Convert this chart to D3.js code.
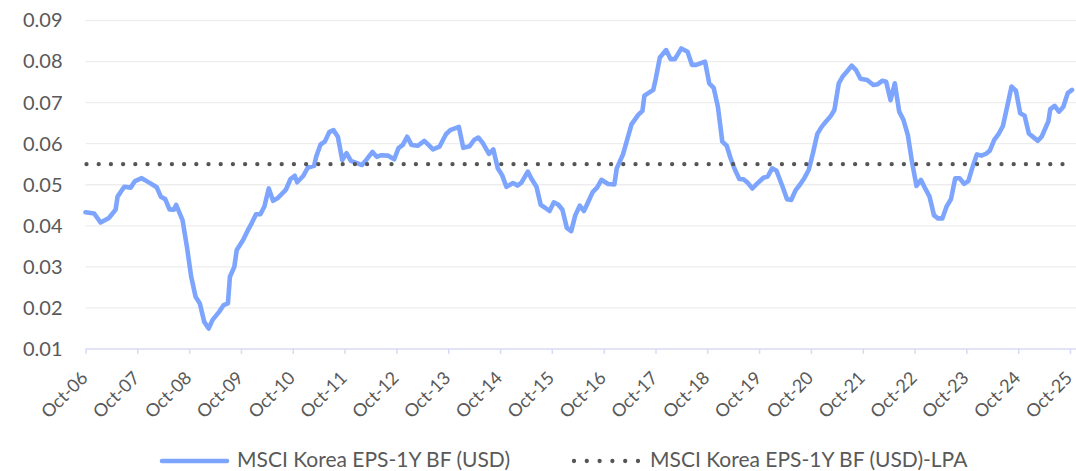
<!DOCTYPE html>
<html lang="en">
<head>
    <meta charset="UTF-8">
    <title>MSCI Korea EPS-1Y BF</title>
    <script src="https://d3js.org/d3.v7.min.js"></script>
    <style>
        body {
            margin: 0;
            background-color: white;
        }
        svg text {
            font-family: Lato, "Open Sans", sans-serif;
            fill: #595959;
        }
    </style>
</head>
<body>
    <div id="chart"></div>
    <script>
        // readings taken off the chart (roughly monthly)
        const dates = [
            "2006-10-01", "2006-12-01", "2007-01-15", "2007-03-15", "2007-05-01", "2007-05-15", "2007-07-01", "2007-08-15",
            "2007-09-15", "2007-11-01", "2007-12-15", "2008-02-01", "2008-02-15", "2008-03-15", "2008-04-15", "2008-05-15",
            "2008-06-15", "2008-07-01", "2008-08-15", "2008-09-15", "2008-10-15", "2008-11-15", "2008-12-15", "2009-01-15",
            "2009-02-15", "2009-03-15", "2009-05-01", "2009-06-01", "2009-07-01", "2009-07-15", "2009-08-15", "2009-09-01",
            "2009-10-15", "2009-11-15", "2009-12-15", "2010-01-15", "2010-02-15", "2010-03-15", "2010-04-15", "2010-05-15",
            "2010-06-15", "2010-08-01", "2010-08-15", "2010-09-15", "2010-10-15", "2010-11-01", "2010-12-15", "2011-01-15",
            "2011-03-01", "2011-03-15", "2011-04-15", "2011-05-15", "2011-06-15", "2011-07-15", "2011-08-15", "2011-09-15",
            "2011-10-15", "2011-11-15", "2012-01-01", "2012-02-01", "2012-03-01", "2012-04-15", "2012-05-15", "2012-06-15",
            "2012-08-01", "2012-09-15", "2012-10-15", "2012-11-15", "2012-12-15", "2013-01-15", "2013-03-01", "2013-04-15",
            "2013-05-15", "2013-06-15", "2013-08-01", "2013-09-15", "2013-10-15", "2013-12-15", "2014-01-15", "2014-03-01",
            "2014-04-01", "2014-05-01", "2014-06-01", "2014-07-15", "2014-08-15", "2014-09-15", "2014-10-15", "2014-11-15",
            "2015-01-01", "2015-02-01", "2015-03-01", "2015-04-15", "2015-05-15", "2015-06-15", "2015-07-15", "2015-08-15",
            "2015-09-15", "2015-10-15", "2015-11-15", "2015-12-15", "2016-01-15", "2016-02-15", "2016-03-15", "2016-04-15",
            "2016-05-15", "2016-06-15", "2016-07-15", "2016-08-15", "2016-09-15", "2016-11-01", "2016-12-15", "2017-01-01",
            "2017-02-15", "2017-03-15", "2017-04-15", "2017-06-01", "2017-07-01", "2017-07-15", "2017-09-15", "2017-10-01",
            "2017-11-01", "2017-12-15", "2018-01-15", "2018-02-15", "2018-04-01", "2018-05-15", "2018-06-15", "2018-07-15",
            "2018-09-15", "2018-10-15", "2018-11-15", "2018-12-15", "2019-01-15", "2019-02-15", "2019-03-15", "2019-04-15",
            "2019-05-15", "2019-06-15", "2019-07-15", "2019-08-15", "2019-09-15", "2019-11-01", "2019-12-01", "2020-01-01",
            "2020-02-01", "2020-03-15", "2020-04-15", "2020-05-15", "2020-06-15", "2020-07-15", "2020-08-15", "2020-09-15",
            "2020-10-15", "2020-11-15", "2020-12-15", "2021-01-15", "2021-02-15", "2021-03-15", "2021-04-15", "2021-05-15",
            "2021-06-15", "2021-07-15", "2021-08-15", "2021-09-15", "2021-11-01", "2021-12-15", "2022-01-15", "2022-02-15",
            "2022-03-15", "2022-04-15", "2022-05-15", "2022-06-15", "2022-07-15", "2022-08-15", "2022-09-15", "2022-10-15",
            "2022-11-15", "2022-12-15", "2023-01-15", "2023-02-15", "2023-03-15", "2023-04-15", "2023-05-15", "2023-06-15",
            "2023-07-15", "2023-08-15", "2023-09-15", "2023-10-15", "2023-11-15", "2023-12-15", "2024-01-15", "2024-02-15",
            "2024-03-15", "2024-04-15", "2024-05-15", "2024-06-15", "2024-07-15", "2024-08-15", "2024-09-15", "2024-10-15",
            "2024-11-15", "2024-12-15", "2025-01-15", "2025-02-15", "2025-03-15", "2025-05-01", "2025-05-15", "2025-06-15",
            "2025-07-15", "2025-08-15", "2025-09-15", "2025-10-15"
        ];

        const epsValues = [
            0.0433, 0.0430, 0.0408, 0.0419, 0.0439, 0.0471, 0.0495, 0.0493,
            0.0509, 0.0516, 0.0507, 0.0497, 0.0494, 0.0471, 0.0465, 0.0440,
            0.0439, 0.0451, 0.0414, 0.0349, 0.0276, 0.0227, 0.0211, 0.0166,
            0.0150, 0.0171, 0.0191, 0.0207, 0.0211, 0.0276, 0.0300, 0.0341,
            0.0365, 0.0387, 0.0406, 0.0428, 0.0428, 0.0447, 0.0491, 0.0461,
            0.0467, 0.0483, 0.0489, 0.0514, 0.0522, 0.0506, 0.0522, 0.0542,
            0.0546, 0.0568, 0.0598, 0.0605, 0.0628, 0.0633, 0.0617, 0.0560,
            0.0577, 0.0558, 0.0552, 0.0548, 0.0560, 0.0580, 0.0568, 0.0572,
            0.0571, 0.0562, 0.0589, 0.0597, 0.0617, 0.0597, 0.0595, 0.0607,
            0.0597, 0.0586, 0.0593, 0.0623, 0.0633, 0.0641, 0.0590, 0.0594,
            0.0609, 0.0615, 0.0602, 0.0575, 0.0586, 0.0540, 0.0524, 0.0495,
            0.0504, 0.0498, 0.0505, 0.0532, 0.0512, 0.0495, 0.0451, 0.0444,
            0.0436, 0.0457, 0.0452, 0.0439, 0.0395, 0.0387, 0.0426, 0.0449,
            0.0436, 0.0459, 0.0482, 0.0493, 0.0512, 0.0502, 0.0501, 0.0540,
            0.0575, 0.0609, 0.0647, 0.0670, 0.0680, 0.0717, 0.0731, 0.0755,
            0.0810, 0.0828, 0.0806, 0.0806, 0.0832, 0.0824, 0.0792, 0.0792,
            0.0800, 0.0747, 0.0736, 0.0690, 0.0605, 0.0595, 0.0564, 0.0536,
            0.0514, 0.0513, 0.0504, 0.0491, 0.0502, 0.0517, 0.0520, 0.0540,
            0.0534, 0.0495, 0.0465, 0.0463, 0.0487, 0.0500, 0.0516, 0.0536,
            0.0577, 0.0624, 0.0641, 0.0654, 0.0666, 0.0682, 0.0747, 0.0765,
            0.0777, 0.0790, 0.0779, 0.0758, 0.0755, 0.0743, 0.0745, 0.0753,
            0.0751, 0.0706, 0.0747, 0.0678, 0.0658, 0.0621, 0.0552, 0.0497,
            0.0512, 0.0491, 0.0471, 0.0426, 0.0418, 0.0418, 0.0447, 0.0465,
            0.0516, 0.0516, 0.0502, 0.0509, 0.0544, 0.0574, 0.0571, 0.0575,
            0.0583, 0.0609, 0.0623, 0.0643, 0.0690, 0.0739, 0.0729, 0.0674,
            0.0668, 0.0625, 0.0616, 0.0607, 0.0617, 0.0654, 0.0684, 0.0692,
            0.0678, 0.0690, 0.0723, 0.0731
        ];

        // long-period average
        const lpaValue = 0.055;

        const yTicks = [0.01, 0.02, 0.03, 0.04, 0.05, 0.06, 0.07, 0.08, 0.09];
        const xTickLabels = [
            "Oct-06", "Oct-07", "Oct-08", "Oct-09", "Oct-10", "Oct-11", "Oct-12", "Oct-13", "Oct-14", "Oct-15",
            "Oct-16", "Oct-17", "Oct-18", "Oct-19", "Oct-20", "Oct-21", "Oct-22", "Oct-23", "Oct-24", "Oct-25"
        ];
        const seriesNames = ["MSCI Korea EPS-1Y BF (USD)", "MSCI Korea EPS-1Y BF (USD)-LPA"];

        const width = 1076, height = 471;
        const lineColor = "#7ea5fe";
        const dotColor = "#555555";

        const parseDate = d3.timeParse("%Y-%m-%d");
        const parseTick = d3.timeParse("%b-%y");
        const data = dates.map((d, i) => ({ date: parseDate(d), value: epsValues[i] }));
        const tickDates = xTickLabels.map(parseTick);

        const x = d3.scaleTime()
            .domain([tickDates[0], tickDates[tickDates.length - 1]])
            .range([85.5, 1070]);
        const y = d3.scaleLinear()
            .domain([0.01, 0.09])
            .range([349, 20.5]);

        const svg = d3.select("#chart").append("svg")
            .attr("width", width)
            .attr("height", height);

        // gridlines
        svg.append("g")
            .selectAll("line")
            .data(yTicks.slice(1))
            .join("line")
            .attr("x1", 85.5)
            .attr("x2", width)
            .attr("y1", d => y(d))
            .attr("y2", d => y(d))
            .attr("stroke", "#ededed")
            .attr("stroke-width", 1.3);

        // y axis (labels only)
        const yAxis = svg.append("g")
            .attr("transform", "translate(85.5,0)")
            .call(d3.axisLeft(y).tickValues(yTicks).tickFormat(d3.format(".2f")).tickSize(0).tickPadding(23));
        yAxis.select(".domain").remove();
        yAxis.selectAll("text")
            .style("font-size", "20px")
            .style("font-family", "Lato, sans-serif")
            .attr("fill", "#595959");

        // x axis
        const xAxis = svg.append("g")
            .attr("transform", "translate(0,349)")
            .call(d3.axisBottom(x).tickValues(tickDates).tickFormat((d, i) => xTickLabels[i]).tickSize(5));
        xAxis.select(".domain")
            .attr("d", `M85.5,0H${width}`)
            .attr("stroke", "#d9daf3")
            .attr("stroke-width", 1.5);
        xAxis.selectAll(".tick line")
            .attr("stroke", "#d9daf3")
            .attr("stroke-width", 1.5);
        xAxis.selectAll("text")
            .attr("x", 0)
            .attr("y", 0)
            .attr("dy", 0)
            .attr("text-anchor", "end")
            .attr("transform", "translate(3,30) rotate(-45)")
            .style("font-size", "18px")
            .style("font-family", "Lato, sans-serif")
            .attr("fill", "#595959");

        // EPS line
        const line = d3.line()
            .x(d => x(d.date))
            .y(d => y(d.value));

        svg.append("path")
            .datum(data)
            .attr("d", line)
            .attr("fill", "none")
            .attr("stroke", lineColor)
            .attr("stroke-width", 4.6)
            .attr("stroke-linejoin", "round")
            .attr("stroke-linecap", "round");

        // LPA dotted line
        svg.append("line")
            .attr("x1", x(tickDates[0]) + 1)
            .attr("x2", x(tickDates[tickDates.length - 1]))
            .attr("y1", y(lpaValue))
            .attr("y2", y(lpaValue))
            .attr("stroke", dotColor)
            .attr("stroke-width", 4.3)
            .attr("stroke-linecap", "round")
            .attr("stroke-dasharray", "0 12.2");

        // legend
        const legend = svg.append("g").attr("transform", "translate(0,461)");
        legend.append("line")
            .attr("x1", 162).attr("x2", 227)
            .attr("y1", 0).attr("y2", 0)
            .attr("stroke", lineColor)
            .attr("stroke-width", 4.6)
            .attr("stroke-linecap", "round");
        legend.append("text")
            .attr("x", 237).attr("y", 6)
            .style("font-size", "21px")
            .text(seriesNames[0]);
        legend.append("line")
            .attr("x1", 574).attr("x2", 639)
            .attr("y1", 0).attr("y2", 0)
            .attr("stroke", dotColor)
            .attr("stroke-width", 4.3)
            .attr("stroke-linecap", "round")
            .attr("stroke-dasharray", "0 12.8");
        legend.append("text")
            .attr("x", 650).attr("y", 6)
            .style("font-size", "21px")
            .text(seriesNames[1]);
    </script>
</body>
</html>
